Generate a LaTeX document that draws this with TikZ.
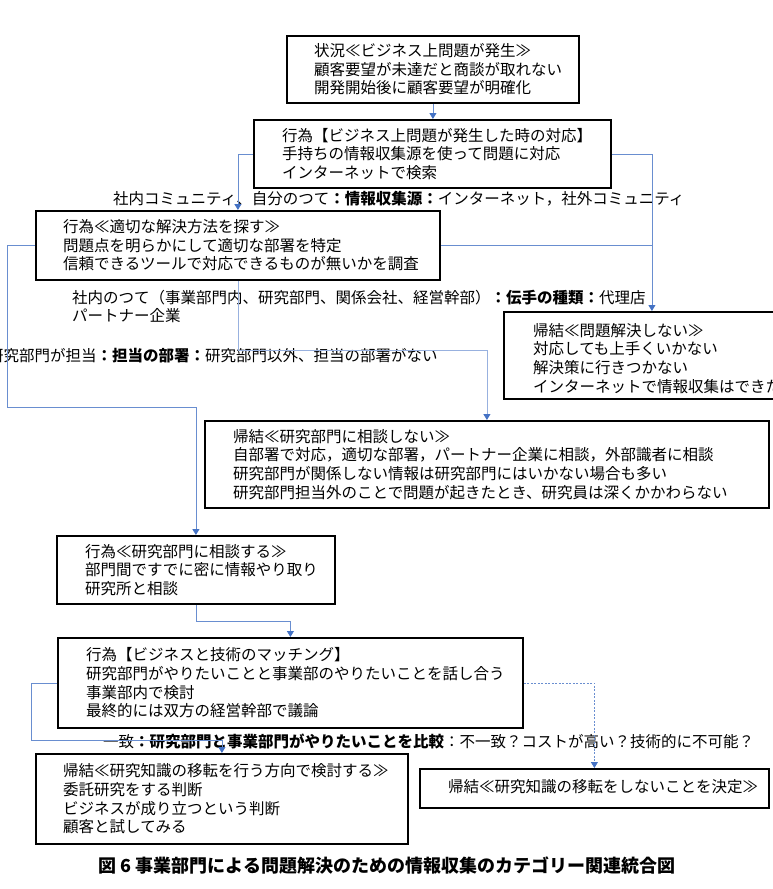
\documentclass[tikz,border=0pt]{standalone}
\usepackage{fontspec}
\newfontfamily\jpfont{Noto Sans CJK JP}
\usetikzlibrary{arrows.meta, positioning}
\definecolor{linkblue}{RGB}{68, 114, 196}

\begin{document}
\begin{tikzpicture}[x=1pt, y=-1pt,
    catframe/.style={draw, line width=1.8pt, anchor=north west, inner sep=0pt},
    boxtext/.style={anchor=west, align=left, inner sep=0pt},
    tag/.style={anchor=west, align=left, inner sep=0pt},
    joint/.style={draw=linkblue!80, line width=0.8pt},
    link/.style={joint, -{Triangle[width=7pt, length=6pt, color=linkblue]}},
    font=\jpfont\fontsize{15.5}{18.7}\selectfont
]
    \useasboundingbox (0,0) rectangle (773,889);

    % boxes
    \node[catframe, minimum width=292pt, minimum height=67pt] (sit) at (286,35) {};
    \node[boxtext] (sit-text) at ([xshift=28pt]sit.west)
        {状況≪ビジネス上問題が発生≫\\顧客要望が未達だと商談が取れない\\開発開始後に顧客要望が明確化};

    \node[catframe, minimum width=357pt, minimum height=68pt] (act) at (253,119) {};
    \node[boxtext] (act-text) at ([xshift=29pt]act.west)
        {行為【ビジネス上問題が発生した時の対応】\\手持ちの情報収集源を使って問題に対応\\インターネットで検索};

    \node[catframe, minimum width=404pt, minimum height=69pt] (search) at (35,210) {};
    \node[boxtext] (search-text) at ([xshift=28pt]search.west)
        {行為≪適切な解決方法を探す≫\\問題点を明らかにして適切な部署を特定\\信頼できるツールで対応できるものが無いかを調査};

    \node[catframe, minimum width=296pt, minimum height=87pt] (fail) at (503,311) {};
    \node[boxtext] (fail-text) at ([xshift=30pt,yshift=-3pt]fail.west)
        {帰結≪問題解決しない≫\\対応しても上手くいかない\\解決策に行きつかない\\インターネットで情報収集はできた};

    \node[catframe, minimum width=564pt, minimum height=87pt] (nodisc) at (204,420) {};
    \node[boxtext] (nodisc-text) at ([xshift=29pt]nodisc.west)
        {帰結≪研究部門に相談しない≫\\自部署で対応，適切な部署，パートナー企業に相談，外部識者に相談\\研究部門が関係しない情報は研究部門にはいかない場合も多い\\研究部門担当外のことで問題が起きたとき、研究員は深くかかわらない};

    \node[catframe, minimum width=278pt, minimum height=68pt] (consult) at (56,535) {};
    \node[boxtext] (consult-text) at ([xshift=29pt]consult.west)
        {行為≪研究部門に相談する≫\\部門間ですでに密に情報やり取り\\研究所と相談};

    \node[catframe, minimum width=465pt, minimum height=90pt] (match) at (57,637) {};
    \node[boxtext] (match-text) at ([xshift=29pt]match.west)
        {行為【ビジネスと技術のマッチング】\\研究部門がやりたいことと事業部のやりたいことを話し合う\\事業部内で検討\\最終的には双方の経営幹部で議論};

    \node[catframe, minimum width=372pt, minimum height=90pt] (agree) at (35,753) {};
    \node[boxtext] (agree-text) at ([xshift=28pt]agree.west)
        {帰結≪研究知識の移転を行う方向で検討する≫\\委託研究をする判断\\ビジネスが成り立つという判断\\顧客と試してみる};

    \node[catframe, minimum width=349pt, minimum height=39pt] (reject) at (419,768) {};
    \node[boxtext] (reject-text) at ([xshift=29pt,yshift=2pt]reject.west)
        {帰結≪研究知識の移転をしないことを決定≫};

    % category labels
    \node[tag] (source) at (113,199)
        {社内コミュニティ、自分のつて\textbf{：情報収集源：}インターネット，社外コミュニティ};
    \node[tag] (contact) at (72,306.5)
        {社内のつて（事業部門内、研究部門、関係会社、経営幹部）\textbf{：伝手の種類：}代理店\\パートナー企業};
    \node[tag] (dept) at (-12,356)
        {研究部門が担当\textbf{：担当の部署：}研究部門以外、担当の部署がない};
    \node[tag] (compare) at (103,741)
        {一致\textbf{：研究部門と事業部門がやりたいことを比較}：不一致？コストが高い？技術的に不可能？};

    % connectors
    \draw[link] (sit.south) -- (sit.south |- act.north);
    \draw[link] (act.west) -| (search.north);
    \draw[link] (act.east) -| (fail.north);
    \draw[joint] (search.east) -- (search.east -| fail.north);
    \draw[link, draw=linkblue!55] (search.south) -- ++(0,70) -| (nodisc.north);
    \draw[link] (search.west) -| ++(-28,162) -| (consult.north);
    \draw[link] (consult.south) -- ++(0,17) -| (match.north);
    \draw[link] (match.west) -| ++(-26,57) -| (agree.north);
    \draw[link, dash pattern=on 2pt off 1.5pt] (match.east) -| (reject.north);

    % caption
    \node[font=\jpfont\fontsize{18}{20}\selectfont\bfseries] (caption) at (387,866)
        {図 6 事業部門による問題解決のための情報収集のカテゴリー関連統合図};
\end{tikzpicture}
\end{document}
